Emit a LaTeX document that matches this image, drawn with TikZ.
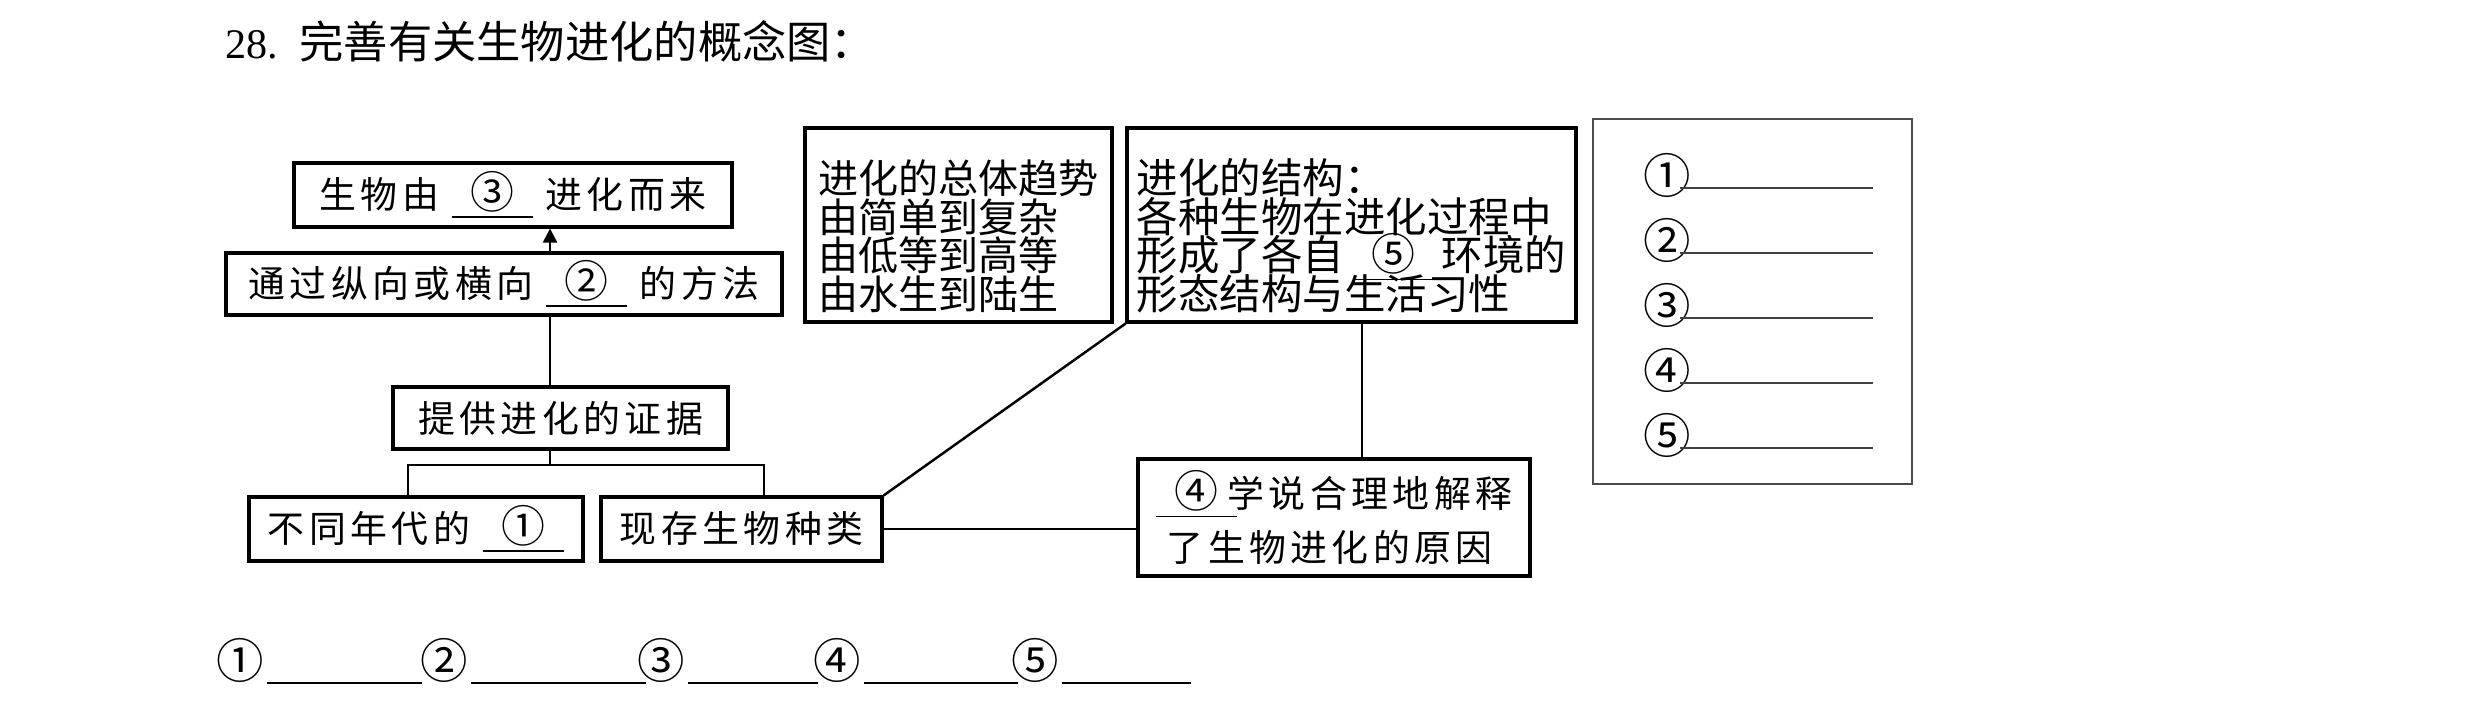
\documentclass[tikz,border=0pt]{standalone}
\usepackage{fontspec}
\setmainfont{Liberation Serif}
\newfontfamily\cjk{Noto Sans CJK SC}
\newfontfamily\cjkwide[LetterSpace=12]{Noto Sans CJK SC}
\usetikzlibrary{arrows.meta}
\newcommand\blank[2]{\underline{\makebox[#1]{\fontsize{12.5pt}{12pt}\selectfont #2}}}
\newcommand\topstrut{\rule{0pt}{16pt}}

\tikzset{
    box/.style={draw, line width=0.9pt, inner sep=0pt, font={\fontsize{10.5pt}{13pt}\cjkwide}},
    bigbox/.style={draw, line width=0.9pt, inner sep=0pt, align=left},
    link/.style={line width=0.7pt},
    num/.style={inner sep=0pt, font={\fontsize{13.5pt}{14pt}\cjk}},
    fillline/.style={line width=0.6pt, black!75}
}

\begin{document}
\begin{tikzpicture}[scale=0.1]
    \useasboundingbox (0,0) rectangle (248,-70.4);
    \node[anchor=west, inner sep=0pt, font=\fontsize{12pt}{14pt}\selectfont] (title) at (22.5,-4.1) {28.\hspace{0.5em}{\fontsize{12.6pt}{14pt}\cjk 完善有关生物进化的概念图：}};
    % left column
    \node[box, minimum width=4.38cm, minimum height=0.64cm] (evo) at (51.3,-19.5) {生物由 \blank{2.2em}{③} 进化而来};
    \node[box, minimum width=5.56cm, minimum height=0.62cm] (method) at (50.4,-28.4) {通过纵向或横向 \blank{2.2em}{②} 的方法};
    \node[box, minimum width=3.35cm, minimum height=0.62cm] (proof) at (56.05,-41.8) {提供进化的证据};
    \node[box, minimum width=3.34cm, minimum height=0.64cm] (fossil) at (41.6,-52.9) {不同年代的 \blank{2.2em}{①}};
    \node[box, minimum width=2.81cm, minimum height=0.64cm] (species) at (74.15,-52.9) {现存生物种类};
    % right part
    \node[bigbox, minimum width=3.07cm, minimum height=1.94cm, font={\fontsize{11.4pt}{10.96pt}\cjk\lineskiplimit=-20pt}] (trend) at (95.85,-22.5)
        {\topstrut 进化的总体趋势\\由简单到复杂\\由低等到高等\\由水生到陆生};
    \node[bigbox, minimum width=4.49cm, minimum height=1.94cm, font={\fontsize{11.8pt}{10.96pt}\cjk\lineskiplimit=-20pt}] (struct) at (135.15,-22.5)
        {\topstrut 进化的结构：\\各种生物在进化过程中\\形成了各自 \blank{1.9em}{⑤} 环境的\\形态结构与生活习性};
    \node[box, align=left, minimum width=3.92cm, minimum height=1.17cm, font={\fontsize{10.5pt}{15.4pt}\cjkwide}] (theory) at (133.4,-51.75)
        {\blank{2.2em}{④}\hspace{-0.25em}学说合理地解释\\\hspace*{0.3em}了生物进化的原因};
    % answer box
    \node[draw, line width=0.6pt, black!70, minimum width=3.19cm, minimum height=3.65cm] (answers) at (175.25,-30.15) {};
    \foreach \i/\c in {1/①,2/②,3/③,4/④,5/⑤} {
        \node[num] (a\i) at (166.7,{-17.5-6.5*(\i-1)}) {\c};
        \draw[fillline] (a\i.center) ++(1.3,-1.3) -- ++(19.3,0);
    }
    % connectors
    \coordinate (spine) at (55,0);
    \coordinate (fork) at (55,-46.5);
    \coordinate (brL) at (40.8,-46.5);
    \coordinate (brR) at (76.4,-46.5);
    \coordinate (stem) at (136.2,0);
    \draw[link, -{Triangle[length=4pt,width=4pt]}] (method.north -| spine) -- (evo.south -| spine);
    \draw[link] (method.south -| spine) -- (proof.north -| spine);
    \draw[link] (proof.south -| fork) -- (fork);
    \draw[link] (fossil.north -| brL) -- (brL) -- (brR) -- (species.north -| brR);
    \draw[link] (species.north east) -- (struct.south west);
    \draw[link] (species.east) -- (species.east -| theory.west);
    \draw[link] (struct.south -| stem) -- (theory.north -| stem);
    % answer row
    \foreach \i/\c/\x/\l in {1/①/24.0/15.5, 2/②/44.4/17.5, 3/③/66.1/13.0, 4/④/83.7/15.4, 5/⑤/103.5/12.9} {
        \node[num] (b\i) at (\x,-66.0) {\c};
        \draw[line width=0.5pt] (b\i.center) ++(2.7,-2.3) -- ++(\l,0);
    }
\end{tikzpicture}
\end{document}
